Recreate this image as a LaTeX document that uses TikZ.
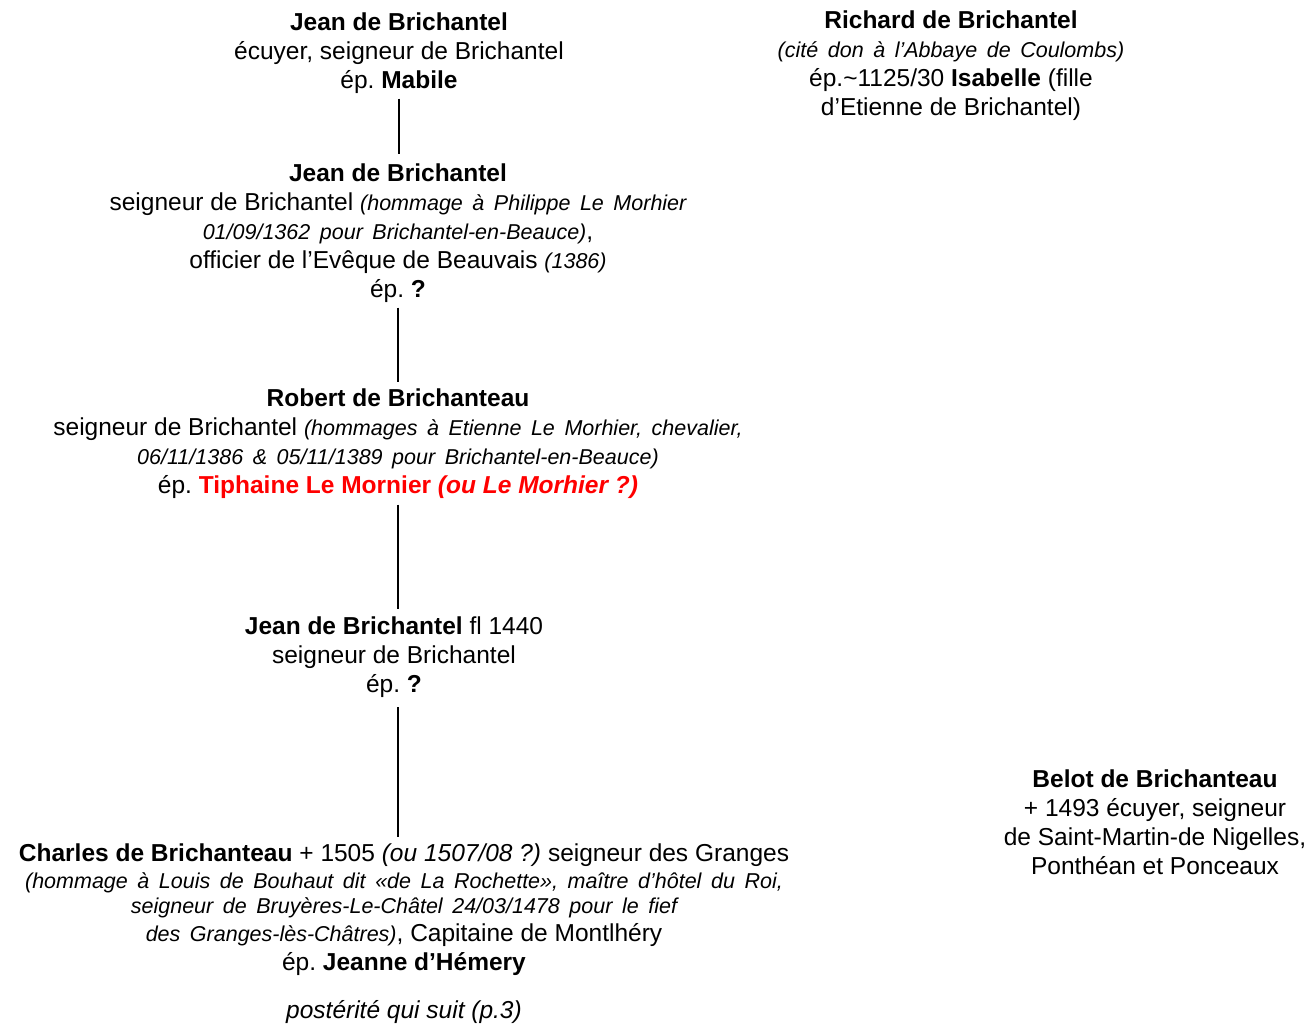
\documentclass[tikz,border=0pt]{standalone}
\usepackage{fontspec}
\setmainfont{Liberation Sans}
\frenchspacing
\newcommand\gros{\fontsize{24.5}{29}\selectfont}
\newcommand\ital[1]{{\fontsize{21.5}{29}\selectfont\itshape\spaceskip=1.6\fontdimen2\font #1}}
\tikzset{
  person/.style={align=center, font=\gros, inner sep=0pt},
  filiation/.style={line width=2.4pt},
}
\begin{document}
\begin{tikzpicture}[x=1pt,y=-1pt]
\useasboundingbox (0,0) rectangle (1313,1023);

\node[person] (jean1) at (399,53) {\textbf{Jean de Brichantel}\\
écuyer, seigneur de Brichantel\\
ép. \textbf{Mabile}};

\node[person] (richard) at (951,65.5) {\textbf{Richard de Brichantel}\\
\ital{(cité don à l’Abbaye de Coulombs)}\\
ép.\textasciitilde1125/30 \textbf{Isabelle} (fille\\
d’Etienne de Brichantel)};

\node[person] (jean2) at (398,233) {\textbf{Jean de Brichantel}\\
seigneur de Brichantel \ital{(hommage à Philippe Le Morhier}\\
\ital{01/09/1362 pour Brichantel-en-Beauce)},\\
officier de l’Evêque de Beauvais \ital{(1386)}\\
ép. \textbf{?}};

\node[person] (robert) at (398,443.5) {\textbf{Robert de Brichanteau}\\
seigneur de Brichantel \ital{(hommages à Etienne Le Morhier, chevalier,}\\
\ital{06/11/1386 \& 05/11/1389 pour Brichantel-en-Beauce)}\\
ép. \textcolor{red}{\textbf{Tiphaine Le Mornier \textit{(ou Le Morhier ?)}}}};

\node[person] (jean3) at (394,657.5) {\textbf{Jean de Brichantel} fl 1440\\
seigneur de Brichantel\\
ép. \textbf{?}};

\node[person] (charles) at (404,909.5) {\textbf{Charles de Brichanteau} + 1505 \textit{(ou 1507/08 ?)} seigneur des Granges\\[-2pt]
\ital{(hommage à Louis de Bouhaut dit «de La Rochette», maître d’hôtel du Roi,}\\[-4pt]
\ital{seigneur de Bruyères-Le-Châtel 24/03/1478 pour le fief}\\[-1pt]
\ital{des Granges-lès-Châtres)}, Capitaine de Montlhéry\\
ép. \textbf{Jeanne d’Hémery}};

\node[person] (suite) at (404,1012) {\textit{postérité qui suit (p.3)}};

\node[person] (belot) at (1155,822) {\textbf{Belot de Brichanteau}\\
+ 1493 écuyer, seigneur\\
de Saint-Martin-de Nigelles,\\
Ponthéan et Ponceaux};

% filiation
\draw[filiation] ([yshift=-5pt]jean1.south) -- ([yshift=9pt]jean1.south |- jean2.north);
\draw[filiation] ([yshift=-5pt]jean2.south) -- ([yshift=6pt]jean2.south |- robert.north);
\draw[filiation] ([yshift=-6pt]robert.south) -- ([yshift=8pt]robert.south |- jean3.north);
\draw[filiation] ([yshift=-9pt]jean3.south -| robert.south) -- ([yshift=6pt]robert.south |- charles.north);
\end{tikzpicture}
\end{document}
